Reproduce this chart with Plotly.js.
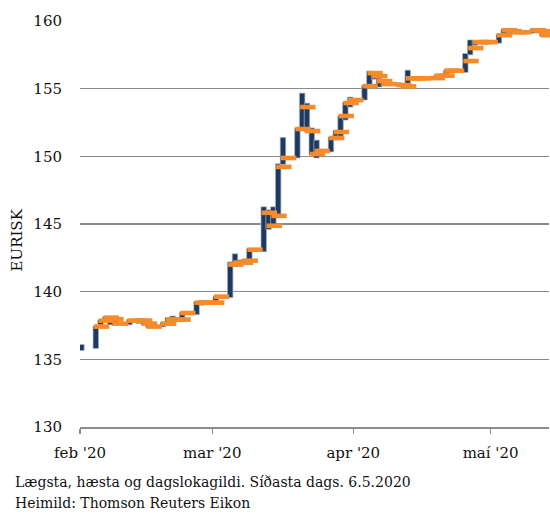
<!DOCTYPE html>
<html>
<head>
<meta charset="utf-8">
<script src="https://cdn.plot.ly/plotly-3.0.1.min.js"></script>
<style>html,body{margin:0;padding:0;background:#fff;}#chart{width:550px;height:518px;}</style>
</head>
<body>
<div id="chart"></div>
<script>
// Trading days (EURISK)
var dates = [
 "2020-01-31",
 "2020-02-03","2020-02-04","2020-02-05","2020-02-06","2020-02-07",
 "2020-02-10","2020-02-11","2020-02-12","2020-02-13","2020-02-14",
 "2020-02-17","2020-02-18","2020-02-19","2020-02-20","2020-02-21",
 "2020-02-24","2020-02-25","2020-02-26","2020-02-27","2020-02-28",
 "2020-03-02","2020-03-03","2020-03-04","2020-03-05","2020-03-06",
 "2020-03-09","2020-03-10","2020-03-11","2020-03-12","2020-03-13",
 "2020-03-16","2020-03-17","2020-03-18","2020-03-19","2020-03-20",
 "2020-03-23","2020-03-24","2020-03-25","2020-03-26","2020-03-27",
 "2020-03-30","2020-03-31","2020-04-01","2020-04-02","2020-04-03",
 "2020-04-06","2020-04-07","2020-04-08","2020-04-09","2020-04-10",
 "2020-04-13","2020-04-14","2020-04-15","2020-04-16","2020-04-17",
 "2020-04-20","2020-04-21","2020-04-22","2020-04-23","2020-04-24",
 "2020-04-27","2020-04-28","2020-04-29","2020-04-30","2020-05-01",
 "2020-05-04","2020-05-05","2020-05-06"
];
var low = [
 135.65,
 135.8,137.55,137.75,137.55,137.5,
 137.55,137.75,137.65,137.55,137.35,
 137.4,137.65,137.85,137.85,137.95,
 138.3,139.0,139.05,139.05,139.1,
 139.56,141.85,142.0,142.05,142.2,
 142.95,144.6,144.8,145.53,149.4,
 149.88,152.0,151.8,150.1,149.88,
 150.33,151.2,151.43,152.68,153.64,
 154.16,155.12,155.7,155.12,155.25,
 155.2,155.1,155.12,155.7,155.7,
 155.7,155.8,155.85,155.9,156.25,
 156.2,157.5,158.2,158.3,158.3,
 158.36,158.95,159.1,159.1,159.1,
 159.1,159.15,158.9
];
var high = [
 136.1,
 137.46,137.9,138.15,138.1,137.95,
 137.95,137.95,137.95,137.9,137.7,
 137.75,138.08,138.2,138.1,138.48,
 139.27,139.35,139.3,139.3,139.66,
 142.2,142.8,142.35,142.4,143.2,
 146.27,146.05,146.27,149.45,151.4,
 152.1,154.67,153.93,152.1,151.2,
 151.43,151.9,153.0,154.0,154.38,
 155.25,156.3,156.15,155.78,155.55,
 155.45,155.35,156.37,155.85,155.85,
 155.85,156.0,156.05,156.37,156.45,
 157.6,158.6,158.55,158.5,158.5,
 159.03,159.4,159.35,159.25,159.25,
 159.4,159.35,159.2
];
var close = [
 null,
 137.42,137.86,138.08,137.97,137.64,
 137.86,137.86,137.86,137.64,137.42,
 137.64,137.94,137.94,137.94,138.42,
 139.19,139.19,139.19,139.19,139.63,
 142.0,142.14,142.14,142.29,143.1,
 145.83,144.87,145.6,149.22,149.88,
 152.02,153.64,151.87,150.17,150.4,
 151.36,151.8,152.98,153.94,154.16,
 155.19,156.15,155.93,155.56,155.34,
 155.27,155.17,155.76,155.76,155.76,
 155.78,155.96,155.96,156.33,156.33,
 157.04,158.0,158.44,158.44,158.44,
 158.95,159.32,159.25,159.17,159.17,
 159.32,159.25,158.95
];
var tickDates = ["2020-01-29 12:30","2020-02-26 02:00","2020-03-26 11:00","2020-04-24 02:00"];
var tickLabels = ["feb '20","mar '20","apr '20","maí '20"];
var yTicks = [130,135,140,145,150,155,160];
var seriesName = "EURISK";
var captionLines = ["Lægsta, hæsta og dagslokagildi. Síðasta dags. 6.5.2020","Heimild: Thomson Reuters Eikon"];

var DAY = 86400000;
var range = high.map(function(h,i){return +(h - low[i]).toFixed(3);});

var traces = [
 {
  type:'bar', x:dates, y:range, base:low,
  width:1.15*DAY, offset:-1.76*DAY,
  marker:{color:'#1f3a5e', line:{color:'#a9b9cc', width:0.7}},
  hoverinfo:'skip', showlegend:false
 },
 {
  type:'scatter', mode:'markers', x:dates, y:close,
  marker:{symbol:'line-ew', size:11, line:{color:'#f68b2c', width:4.6}},
  cliponaxis:false, hoverinfo:'skip', showlegend:false
 }
];

var fontFam = 'DejaVu Serif, serif';
var layout = {
 width:550, height:518,
 margin:{l:80, r:1, t:21, b:91},
 paper_bgcolor:'#fff', plot_bgcolor:'#fff',
 font:{family:fontFam, size:15, color:'#111'},
 barmode:'overlay',
 showlegend:false,
 xaxis:{
  type:'date',
  range:["2020-01-29 12:30","2020-05-06 06:00"],
  tickmode:'array', tickvals:tickDates, ticktext:tickLabels,
  showgrid:false, zeroline:false,
  showline:true, linecolor:'#8c8c8c', linewidth:1.6,
  ticks:'outside', ticklen:5, tickwidth:1.4, tickcolor:'#8c8c8c',
  tickfont:{family:fontFam, size:15, color:'#111'},
  ticklabelstandoff:6,
  fixedrange:true
 },
 yaxis:{
  range:[130,160], tickmode:'array', tickvals:yTicks,
  showgrid:true, gridcolor:'#8c8c8c', gridwidth:1.6,
  zeroline:false, showline:false, ticks:'',
  tickfont:{family:fontFam, size:15, color:'#111'},
  ticklabelstandoff:17,
  fixedrange:true
 },
 annotations:[
  {xref:'paper', yref:'paper', x:(17-80)/469, y:(427-240)/407, text:seriesName,
   textangle:-90, showarrow:false, xanchor:'center', yanchor:'middle',
   font:{family:fontFam, size:15, color:'#111'}},
  {xref:'paper', yref:'paper', x:(13-80)/469, y:(427-482)/407, text:captionLines[0],
   showarrow:false, xanchor:'left', yanchor:'middle',
   font:{family:fontFam, size:14, color:'#111'}},
  {xref:'paper', yref:'paper', x:(13-80)/469, y:(427-503)/407, text:captionLines[1],
   showarrow:false, xanchor:'left', yanchor:'middle',
   font:{family:fontFam, size:14, color:'#111'}}
 ]
};

Plotly.newPlot('chart', traces, layout, {displayModeBar:false, staticPlot:true});
</script>
</body>
</html>
